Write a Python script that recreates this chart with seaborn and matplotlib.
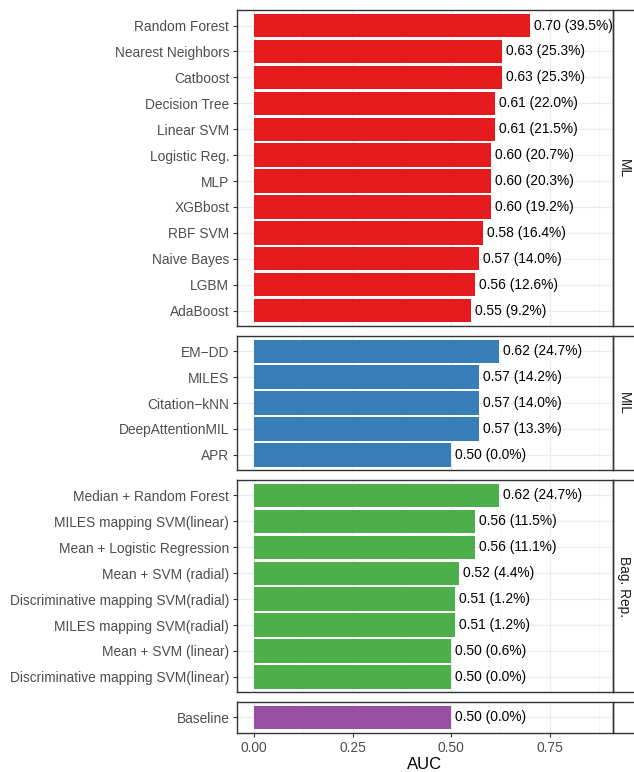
import matplotlib
matplotlib.use('Agg')
import matplotlib.pyplot as plt
import seaborn as sns
import pandas as pd
from matplotlib.patches import Rectangle

# ---------------- data ----------------
ml_models = ["Random Forest", "Nearest Neighbors", "Catboost", "Decision Tree", "Linear SVM",
             "Logistic Reg.", "MLP", "XGBbost", "RBF SVM", "Naive Bayes", "LGBM", "AdaBoost"]
ml_auc = [0.700, 0.629, 0.629, 0.612, 0.612, 0.602, 0.602, 0.602, 0.581, 0.571, 0.561, 0.551]
ml_pct = [39.5, 25.3, 25.3, 22.0, 21.5, 20.7, 20.3, 19.2, 16.4, 14.0, 12.6, 9.2]

mil_models = ["EM\u2212DD", "MILES", "Citation\u2212kNN", "DeepAttentionMIL", "APR"]
mil_auc = [0.622, 0.571, 0.571, 0.571, 0.500]
mil_pct = [24.7, 14.2, 14.0, 13.3, 0.0]

bag_models = ["Median + Random Forest", "MILES mapping SVM(linear)", "Mean + Logistic Regression",
              "Mean + SVM (radial)", "Discriminative mapping SVM(radial)", "MILES mapping SVM(radial)",
              "Mean + SVM (linear)", "Discriminative mapping SVM(linear)"]
bag_auc = [0.622, 0.561, 0.561, 0.520, 0.510, 0.510, 0.500, 0.500]
bag_pct = [24.7, 11.5, 11.1, 4.4, 1.2, 1.2, 0.6, 0.0]

base_models = ["Baseline"]
base_auc = [0.500]
base_pct = [0.0]

groups = ["ML", "MIL", "Bag. Rep.", ""]
group_colors = ["#E41A1C", "#377EB8", "#4DAF4A", "#984EA3"]
x_ticks = [0.0, 0.25, 0.5, 0.75]
x_ticklabels = ["0.00", "0.25", "0.50", "0.75"]

panels = [
    (ml_models, ml_auc, ml_pct),
    (mil_models, mil_auc, mil_pct),
    (bag_models, bag_auc, bag_pct),
    (base_models, base_auc, base_pct),
]

# ---------------- style ----------------
sns.set_theme(style="white")
plt.rcParams['font.family'] = ['Liberation Sans', 'DejaVu Sans']

W, H = 634, 772
fig = plt.figure(figsize=(W / 100, H / 100), dpi=100)
left_px, right_px, top_px, bottom_px = 237, 613, 10, 733
heights = [len(p[0]) + 0.2 for p in panels]
avg_h = (bottom_px - top_px - 3 * 9.5) / 4
gs = fig.add_gridspec(4, 1, height_ratios=heights,
                      left=left_px / W, right=right_px / W,
                      top=1 - top_px / H, bottom=1 - bottom_px / H,
                      hspace=9.5 / avg_h)

border = "#333333"
strip_w = (640 - right_px) / (right_px - left_px)
text_x = 1 + (624 - right_px) / (right_px - left_px)

for k, ((models, auc, pct), grp, col) in enumerate(zip(panels, groups, group_colors)):
    ax = fig.add_subplot(gs[k])
    df = pd.DataFrame({"Model": models, "AUC": auc})
    sns.barplot(data=df, x="AUC", y="Model", color=col, saturation=1,
                width=0.9, edgecolor="none", ax=ax, order=models)
    n = len(models)
    ax.set_ylim(n - 1 + 0.6, -0.6)
    ax.set_xlim(-0.0431, 0.911)
    ax.set_xticks(x_ticks)
    ax.set_xticks([0.125, 0.375, 0.625, 0.875], minor=True)
    ax.set_axisbelow(True)
    ax.grid(True, which="major", axis="both", color="#EBEBEB", lw=0.9)
    ax.grid(True, which="minor", axis="x", color="#F2F2F2", lw=0.5)
    for s in ax.spines.values():
        s.set_color(border)
        s.set_linewidth(1.0)
    ax.set_ylabel("")
    ax.tick_params(axis="y", which="major", left=True, length=3, width=0.8,
                   color=border, labelcolor="#4D4D4D", labelsize=9.9, pad=2.5)
    ax.tick_params(axis="x", which="minor", bottom=False)
    if k == 3:
        ax.set_xticklabels(x_ticklabels)
        ax.tick_params(axis="x", which="major", bottom=True, length=3, width=0.8,
                       color=border, labelcolor="#4D4D4D", labelsize=9.9, pad=2.5)
        ax.set_xlabel("AUC", fontsize=12, color="black", labelpad=2)
    else:
        ax.tick_params(axis="x", which="major", bottom=False, labelbottom=False)
        ax.set_xlabel("")

    for i, (a, p) in enumerate(zip(auc, pct)):
        ax.text(a + 0.01, i, f"{a:.2f} ({p:.1f}%)", ha="left", va="center",
                fontsize=9.9, color="black")

    # facet strip on the right
    rect = Rectangle((1, 0), strip_w, 1, transform=ax.transAxes, clip_on=False,
                     facecolor="white", edgecolor=border, lw=1.0)
    ax.add_patch(rect)
    if grp:
        ax.text(text_x, 0.5, grp, transform=ax.transAxes, rotation=-90,
                ha="center", va="center", fontsize=9.9, color="#1A1A1A", clip_on=False)

fig.savefig("out.png", dpi=100)
